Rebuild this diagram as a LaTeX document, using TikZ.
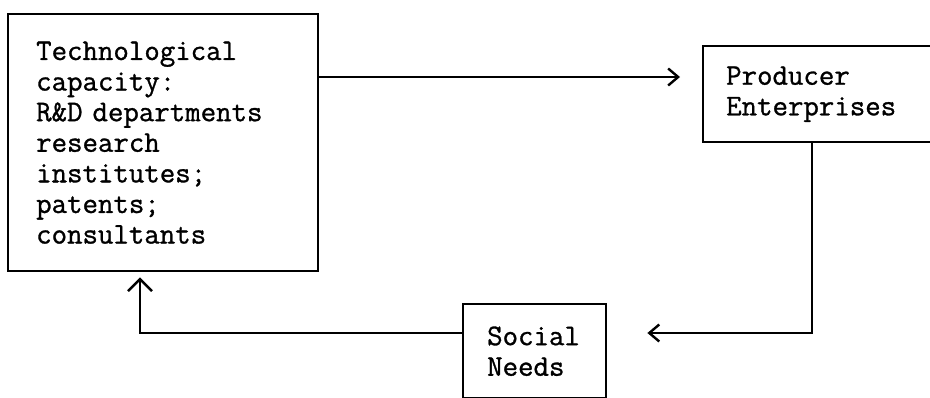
\documentclass[tikz,border=0pt]{standalone}
\usepackage{fontspec}
\usetikzlibrary{arrows.meta}
\newfontfamily\tw[RawFeature={embolden=1.0}]{Latin Modern Mono}
\begin{document}
\begin{tikzpicture}[x=1pt,y=-1pt,
  box/.style={draw, line width=2.4pt, anchor=north west, align=left,
    font=\tw\fontsize{30}{30.6}\selectfont, inner ysep=0pt},
  conn/.style={line width=2.4pt},
  tiph/.style={-{Straight Barb[length=10pt,width=17pt,line width=2.4pt]}},
  tipv/.style={-{Straight Barb[length=12pt,width=24pt,line width=2.4pt]}}
]
\useasboundingbox (0,0) rectangle (930,398);
\fill[white] (0,0) rectangle (930,398);
\clip (0,0) rectangle (930,398);
\node[box, minimum width=310pt, minimum height=257pt, text width=254pt, inner xsep=28pt]
  (tech) at (7,13) {Technological\\capacity:\\R\&D departments\\research\\institutes;\\patents;\\consultants};
\node[box, minimum width=300pt, minimum height=96pt, text width=254pt, inner xsep=23pt]
  (prod) at (702,45) {Producer\\Enterprises};
\node[box, minimum width=143pt, minimum height=94pt, text width=95pt, inner xsep=24pt]
  (soc) at (462,303) {Social\\Needs};
\coordinate (r1) at (0,77);
\coordinate (c2) at (812,333);
\coordinate (c3) at (140,333);
\draw[conn,tiph,shorten >=22pt] (tech.east |- r1) -- (prod.west |- r1);
\draw[conn,tiph,shorten >=40pt] (prod.south -| c2) |- (soc.east |- c2);
\draw[conn,tipv,shorten >=5pt] (soc.west |- c3) -| (tech.south -| c3);
\end{tikzpicture}
\end{document}
